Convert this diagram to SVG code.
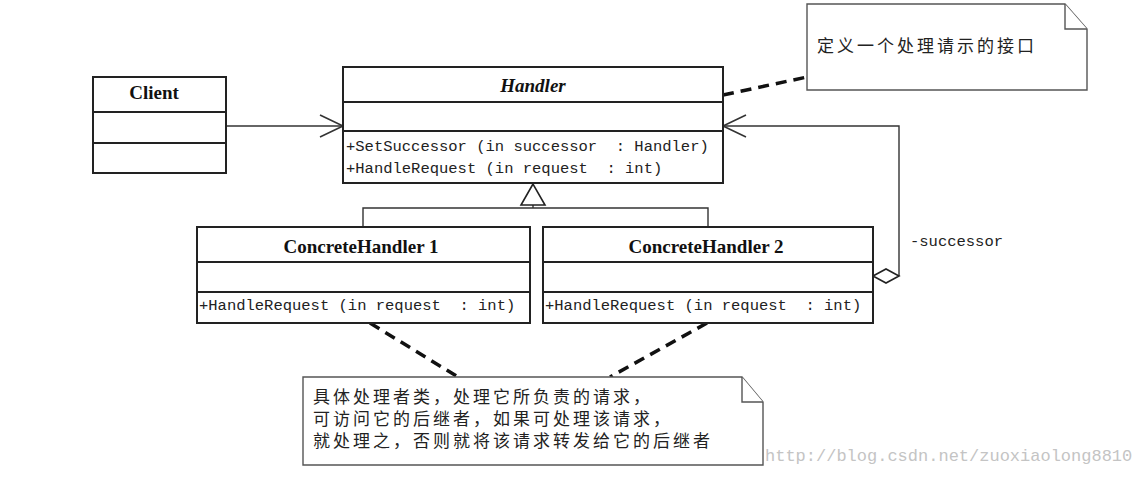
<svg xmlns="http://www.w3.org/2000/svg" width="1135" height="480" viewBox="0 0 1135 480">
<style>
.box{fill:#fff;stroke:#222;stroke-width:2}
.sep{stroke:#222;stroke-width:2}
.name{font-family:"Liberation Serif",serif;font-weight:bold;font-size:19px;fill:#111;text-anchor:middle}
.mono{font-family:"Liberation Mono",monospace;font-size:15.5px;fill:#222;white-space:pre}
.conn{fill:none;stroke:#333;stroke-width:1.4}
.dash{fill:none;stroke:#111;stroke-width:3.5;stroke-dasharray:11 7}
.note{fill:#fff;stroke:#555;stroke-width:1.4}
.cjk{font-family:"Noto Sans CJK SC",sans-serif;font-size:17px;fill:#222;letter-spacing:3px}
</style>
<defs>
<marker id="open" markerUnits="userSpaceOnUse" markerWidth="30" markerHeight="30" refX="24" refY="12" orient="auto">
<path d="M1,1 L24,12 L1,23" fill="none" stroke="#333" stroke-width="1.6"/>
</marker>
</defs>
<rect width="1135" height="480" fill="#fff"/>

<g id="connectors">
<line class="conn" x1="226" y1="126" x2="343" y2="126" marker-end="url(#open)"/>
<polyline class="conn" points="899,276 899,126 723,126" marker-end="url(#open)"/>
<polyline class="conn" points="363,227 363,208 708,208 708,227"/>
<line class="conn" x1="533" y1="205" x2="533" y2="208"/>
<polygon points="533,184 521,205 545,205" fill="#fff" stroke="#222" stroke-width="1.6"/>
<polygon points="873,276 886,269 899,276 886,283" fill="#fff" stroke="#222" stroke-width="1.6"/>
<line class="dash" x1="723" y1="95" x2="807" y2="77"/>
<line class="dash" x1="370" y1="323" x2="458" y2="377"/>
<line class="dash" x1="707" y1="323" x2="610" y2="377"/>
<text class="mono" x="910" y="246">-successor</text>
</g>

<g id="client">
<rect class="box" x="93" y="77" width="133" height="96"/>
<line class="sep" x1="93" y1="112" x2="226" y2="112"/>
<line class="sep" x1="93" y1="143" x2="226" y2="143"/>
<text class="name" x="154" y="99">Client</text>
</g>

<g id="handler">
<rect class="box" x="343" y="67" width="380" height="116"/>
<line class="sep" x1="343" y1="102" x2="723" y2="102"/>
<line class="sep" x1="343" y1="131" x2="723" y2="131"/>
<text class="name" x="533" y="92" font-style="italic">Handler</text>
<text class="mono" x="346" y="151" xml:space="preserve">+SetSuccessor (in successor  : Handler)</text>
<text class="mono" x="346" y="173" xml:space="preserve">+HandleRequest (in request  : int)</text>
</g>

<g id="concrete1">
<rect class="box" x="197" y="227" width="333" height="96"/>
<line class="sep" x1="197" y1="262" x2="530" y2="262"/>
<line class="sep" x1="197" y1="292" x2="530" y2="292"/>
<text class="name" x="361" y="253">ConcreteHandler 1</text>
<text class="mono" x="199" y="310" xml:space="preserve">+HandleRequest (in request  : int)</text>
</g>

<g id="concrete2">
<rect class="box" x="543" y="227" width="330" height="96"/>
<line class="sep" x1="543" y1="262" x2="873" y2="262"/>
<line class="sep" x1="543" y1="292" x2="873" y2="292"/>
<text class="name" x="706" y="253">ConcreteHandler 2</text>
<text class="mono" x="545" y="310" xml:space="preserve">+HandleRequest (in request  : int)</text>
</g>

<g id="note1">
<path class="note" d="M807,4 L1065,4 L1087,29 L1087,90 L807,90 Z"/>
<path class="note" d="M1065,4 L1065,29 L1087,29" fill="none"/>
<text class="cjk" x="817" y="52" font-size="18" letter-spacing="2">定义一个处理请示的接口</text>
</g>

<g id="note2">
<path class="note" d="M303,377 L742,377 L763,402 L763,465 L303,465 Z"/>
<path class="note" d="M742,377 L742,402 L763,402" fill="none"/>
<text class="cjk" x="313" y="403">具体处理者类，处理它所负责的请求，</text>
<text class="cjk" x="313" y="425">可访问它的后继者，如果可处理该请求，</text>
<text class="cjk" x="313" y="447">就处理之，否则就将该请求转发给它的后继者</text>
</g>

<text x="765" y="461" font-family="Liberation Mono, monospace" font-size="17" fill="#c4c4c4">http://blog.csdn.net/zuoxiaolong8810</text>
</svg>
